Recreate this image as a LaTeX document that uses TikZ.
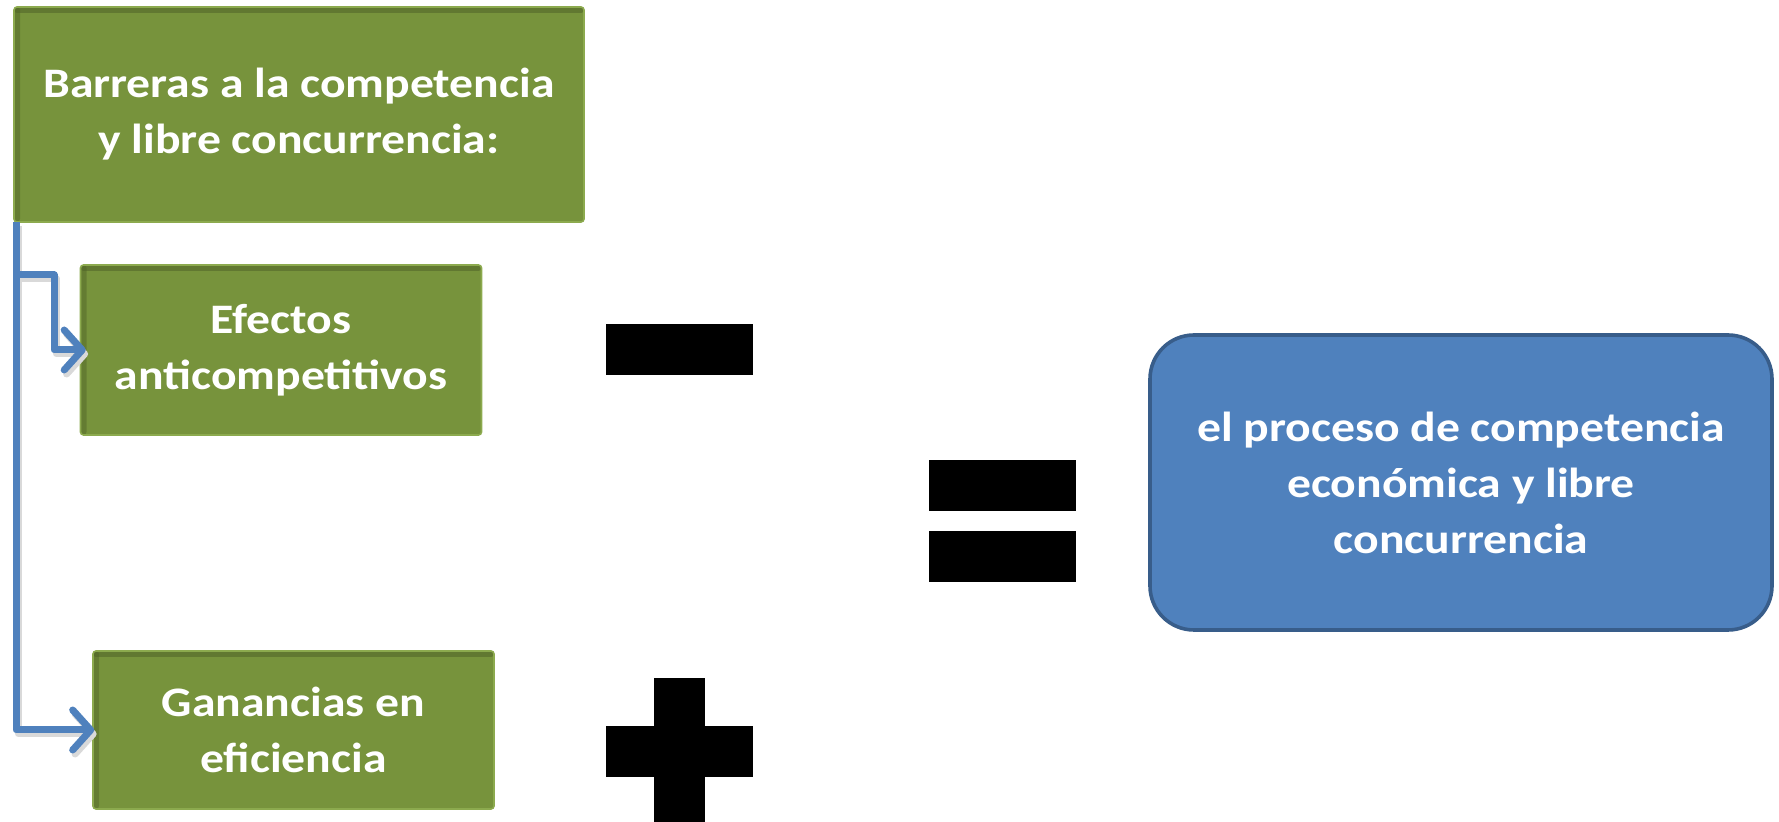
\documentclass[tikz,border=0pt]{standalone}
\usepackage{fontspec}
\setmainfont{Carlito}
\usetikzlibrary{arrows.meta}
\definecolor{boxgreen}{HTML}{77933C}
\definecolor{edgegreen}{HTML}{8CAA4E}
\definecolor{shadegreen}{HTML}{4F6228}
\definecolor{boxblue}{HTML}{4F81BD}
\definecolor{edgeblue}{HTML}{385D8A}
\newcommand{\wl}[1]{\scalebox{1.135}[1]{#1}}
\tikzset{
  x=0.5pt, y=-0.5pt,
  greenbox/.style={rectangle, fill=boxgreen, draw=edgegreen, line width=0.8pt,
    rounded corners=1.5pt, text=white, align=center, inner sep=0pt,
    font=\fontsize{21}{28}\selectfont\bfseries,
    path picture={
      \fill[shadegreen, opacity=0.55] (path picture bounding box.north west) rectangle ([yshift=-3pt]path picture bounding box.north east);
      \fill[shadegreen, opacity=0.45] (path picture bounding box.north west) rectangle ([xshift=3pt]path picture bounding box.south west);
    }},
  bluebox/.style={rectangle, fill=boxblue, draw=edgeblue, line width=1.8pt,
    rounded corners=22pt, text=white, align=center, inner sep=0pt,
    font=\fontsize{21}{28}\selectfont\bfseries},
  conn/.style={draw=boxblue, line width=3.5pt, line join=round,
    -{Straight Barb[length=9pt, width=20pt, line width=3.5pt, round]}},
  connshadow/.style={draw=black!15, line width=3.5pt, line join=round,
    -{Straight Barb[length=9pt, width=20pt, line width=3.5pt, round]}},
  sym/.style={fill=black}
}
\begin{document}
\begin{tikzpicture}
\useasboundingbox (0,0) rectangle (1779,822);
% boxes
\node[greenbox, minimum width=285pt, minimum height=107.5pt] (top) at (299,114.5)
  {\wl{Barreras a la competencia}\\\wl{y libre concurrencia:}};
\node[greenbox, minimum width=200.5pt, minimum height=85pt] (efe) at (281,350)
  {\wl{Efectos}\\\wl{anticompetitivos}};
\node[greenbox, minimum width=200.5pt, minimum height=79pt] (gan) at (293.5,730)
  {\wl{Ganancias en}\\\wl{eficiencia}};
\node[bluebox, minimum width=311pt, minimum height=147.5pt] (res) at (1461,482.5)
  {\wl{el proceso de competencia}\\\wl{econ\'omica y libre}\\\wl{concurrencia}};
% connectors
\coordinate (trunk) at (16,222);
\coordinate (k1) at (54,275);
\begin{scope}[transform canvas={shift={(1.2pt,-2pt)}}]
\draw[connshadow] (trunk) |- (k1) |- ([xshift=3pt]efe.west);
\draw[connshadow] (trunk) |- ([xshift=1pt]gan.west);
\end{scope}
\draw[conn] (trunk) |- (k1) |- ([xshift=3pt]efe.west);
\draw[conn] (trunk) |- ([xshift=1pt]gan.west);
% symbols
\fill[sym] (606,324) rectangle (753,375);
\fill[sym] (929,460) rectangle (1076,511);
\fill[sym] (929,531) rectangle (1076,582);
\fill[sym] (606,726) rectangle (753,777);
\fill[sym] (654,678) rectangle (705,822);
\end{tikzpicture}
\end{document}
